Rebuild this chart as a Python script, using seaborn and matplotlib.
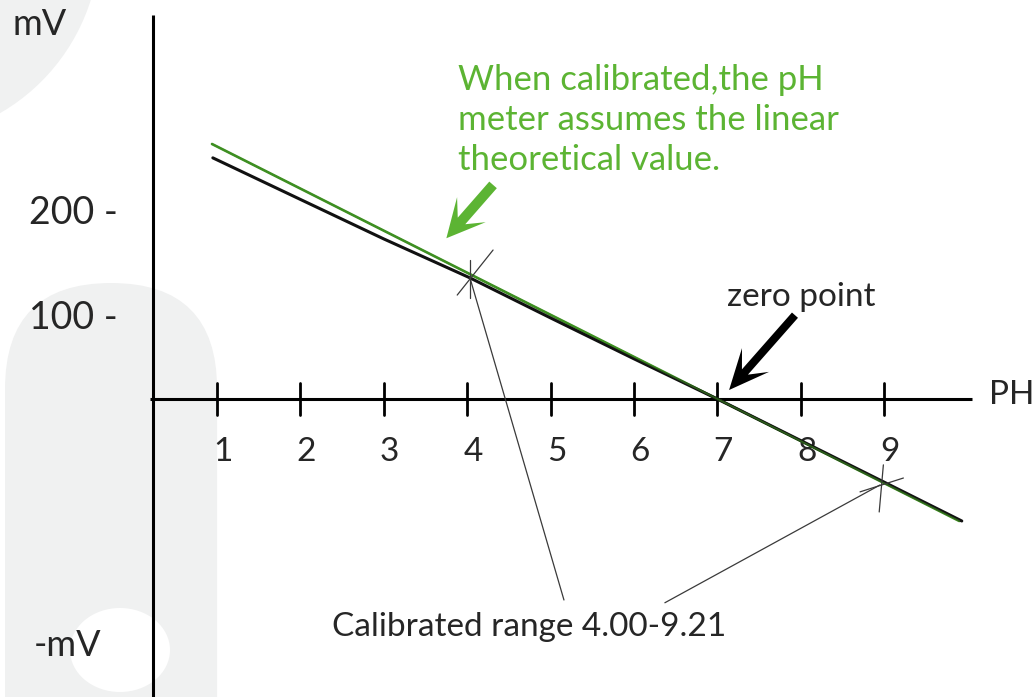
import matplotlib

matplotlib.use("Agg")

import matplotlib.pyplot as plt
import numpy as np
import pandas as pd
import seaborn as sns
from matplotlib.patches import Circle, Ellipse, FancyBboxPatch, Polygon

# ------------------------------------------------------------
# data (pH on x, mV on y)
# ------------------------------------------------------------
ph_ticks = [1, 2, 3, 4, 5, 6, 7, 8, 9]
y_tick_pos = [268, 117]
y_tick_labels = ["200 -", "100 -"]

theory_ph = [0.94, 9.9]
theory_mv = [368, -176]

meter_ph = [0.95, 2, 3, 4.03, 5, 6, 7, 8, 9, 9.93]
meter_mv = [348, 288, 231, 175, 117, 58, 0, -60, -120, -176]

calib_ph = [4.03, 8.95]
calib_mv = [176, -124]

note_lines = ["When calibrated,the pH", "meter assumes the linear",
              "theoretical value."]
note_mv = [460, 403, 345]

GREEN_TXT = "#5cb433"
GREEN_LINE = "#3e8f22"
BG_GREY = "#f0f1f1"

sns.set_theme(style="white")
plt.rcParams["font.family"] = ["Lato", "DejaVu Sans"]

W, H = 1036, 697
fig = plt.figure(figsize=(W / 100, H / 100), dpi=100)

# background decoration in pixel coordinates
bg = fig.add_axes([0, 0, 1, 1], zorder=0)
bg.set_xlim(0, W)
bg.set_ylim(H, 0)
bg.axis("off")
bg.add_patch(Circle((-100, -60), 200, color=BG_GREY, lw=0))
bg.add_patch(FancyBboxPatch((5 + 106, 283 + 106), 0.1, 600,
                            boxstyle="round,pad=106", color=BG_GREY, lw=0))
bg.add_patch(Ellipse((120, 650), 100, 84, color="white", lw=0))

ax = fig.add_axes([0, 0, 1, 1], zorder=1)
ax.patch.set_alpha(0)
ax.set_xlim(-1.602, 10.82)
ax.set_ylim(-430, 575.8)

# axes drawn by hand like the sketch
ax.plot([0.233, 0.233], [554, -430], color="black", lw=2.2, solid_capstyle="butt")
ax.plot([0.197, 10.053], [0, 0], color="black", lw=2.2, solid_capstyle="butt")
for t in ph_ticks:
    ax.plot([t, t], [23, -23], color="black", lw=2.0)
    ax.text(t + 0.07, -76, str(t), fontsize=24, ha="center", va="center")
for pos, lab in zip(y_tick_pos, y_tick_labels):
    ax.text(-0.187, pos, lab, fontsize=27, ha="right", va="center")
ax.text(-1.45, 540, "mV", fontsize=26, ha="left", va="center")
ax.text(-1.20, -355, "-mV", fontsize=26, ha="left", va="center")
ax.text(10.26, 6, "PH", fontsize=24, ha="left", va="center")

# the two response lines
lines = pd.concat([
    pd.DataFrame({"pH": theory_ph, "mV": theory_mv, "kind": "theory"}),
    pd.DataFrame({"pH": meter_ph, "mV": meter_mv, "kind": "meter"}),
])
theory = lines[lines.kind == "theory"]
meter = lines[lines.kind == "meter"]
sns.lineplot(data=theory, x="pH", y="mV", ax=ax, color=GREEN_LINE, lw=1.9, zorder=3)
sns.lineplot(data=meter, x="pH", y="mV", ax=ax, color="#111111", lw=2.2, zorder=4)
sns.lineplot(data=theory, x="pH", y="mV", ax=ax, color=GREEN_LINE, lw=1.2,
             alpha=0.6, zorder=5)
ax.axis("off")

# calibration crosses and leader lines
thin = dict(color="#3a3a3a", lw=0.9, zorder=6)
ax.plot([4.03, 4.03], [200.6, 145.7], **thin)
ax.plot([3.88, 4.31], [150, 215], **thin)
ax.plot([8.99, 8.94], [-95, -163], **thin)
ax.plot([8.71, 9.23], [-134, -114], **thin)
ax.plot([calib_ph[0], 5.16], [calib_mv[0], -290], **thin)
ax.plot([calib_ph[1], 6.37], [calib_mv[1], -294], **thin)

ax.text(2.38, -329, "Calibrated range 4.00-9.21", fontsize=24,
        ha="left", va="center")
ax.text(7.12, 147, "zero point", fontsize=24, ha="left", va="center")
for txt, y in zip(note_lines, note_mv):
    ax.text(3.89, y, txt, fontsize=25, color=GREEN_TXT, ha="left", va="center")


def chevron_arrow(tail, tip, color, shaft=8, head_len=30, head_half=16, notch=12):
    """fat arrow with swept-back barbs, built in display pixels"""
    p0 = ax.transData.transform(tail)
    p1 = ax.transData.transform(tip)
    d = (p1 - p0) / np.linalg.norm(p1 - p0)
    n = np.array([-d[1], d[0]])
    neck = p1 - d * (head_len - notch)
    barb = p1 - d * head_len
    pts = [p1, barb + n * head_half, neck + n * shaft / 2, p0 + n * shaft / 2,
           p0 - n * shaft / 2, neck - n * shaft / 2, barb - n * head_half]
    fig.patches.append(Polygon(pts, closed=True, color=color, lw=0,
                               transform=None, figure=fig, zorder=7))


chevron_arrow((4.31, 309), (3.75, 232), GREEN_TXT, shaft=10, head_len=38,
              head_half=19, notch=15)
chevron_arrow((7.93, 121), (7.14, 13), "#000000", shaft=8, head_len=40,
              head_half=18, notch=16)

fig.savefig("out.png", dpi=100)
